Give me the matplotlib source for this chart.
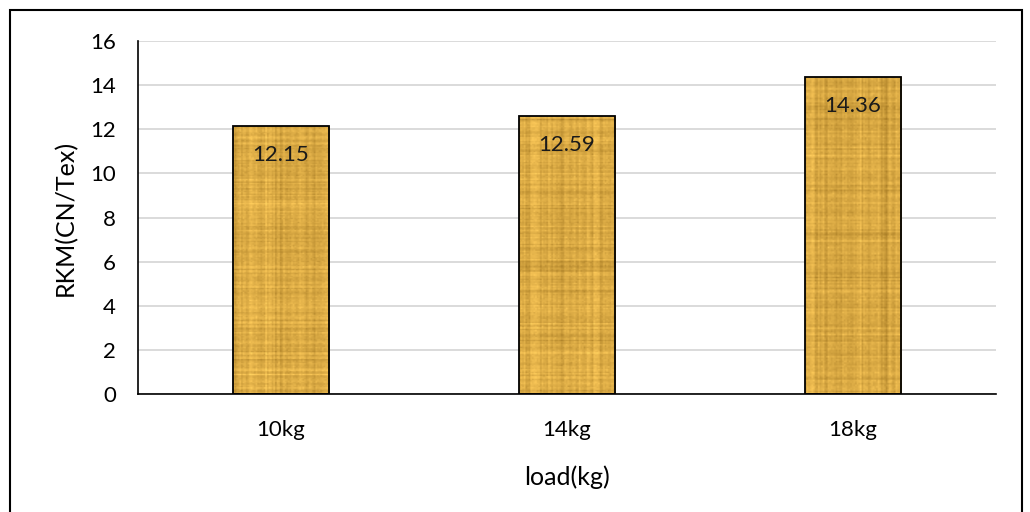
import matplotlib.pyplot as plt
import numpy as np
from matplotlib.patches import Rectangle

loads = ["10kg", "14kg", "18kg"]
rkm = [12.15, 12.59, 14.36]
y_ticks = [0, 2, 4, 6, 8, 10, 12, 14, 16]

BAR_WIDTH = 0.336
FONT = ["Lato", "DejaVu Sans"]


def papyrus_texture(h=200, w=60, seed=3):
    # golden paper-like fill: base colour with streaky fibres
    rng = np.random.default_rng(seed)
    base = np.array([0.86, 0.67, 0.27])
    rows = rng.normal(0, 0.035, (h, 1))
    cols = rng.normal(0, 0.035, (1, w))
    speck = rng.normal(0, 0.02, (h, w))
    shade = rows + cols + speck
    img = np.clip(base[None, None, :] + shade[..., None] * np.array([1.0, 0.9, 0.6]), 0, 1)
    return img


fig = plt.figure(figsize=(10.30, 5.12), dpi=100)
ax = fig.add_axes([138 / 1030, 1 - 394 / 512, (996 - 138) / 1030, (394 - 41) / 512])

x = np.arange(len(loads))
bars = ax.bar(x, rkm, width=BAR_WIDTH, color="none", edgecolor="black",
              linewidth=1.3, zorder=3)
for i, b in enumerate(bars):
    tex = papyrus_texture(seed=i + 5)
    im = ax.imshow(tex, extent=(b.get_x(), b.get_x() + b.get_width(), 0, b.get_height()),
                   aspect="auto", zorder=2, interpolation="bilinear")
    im.set_clip_path(b)
    ax.text(b.get_x() + b.get_width() / 2, b.get_height() - 1.3, f"{rkm[i]:.2f}",
            ha="center", va="center", fontsize=16, family=FONT, color="#1a1a1a", zorder=4)

ax.set_xlim(-0.5, len(loads) - 0.5)
ax.set_ylim(0, 16)
ax.set_yticks(y_ticks)
ax.set_xticks(x)
ax.set_xticklabels(loads)
ax.tick_params(axis="both", length=0, labelsize=16)
ax.tick_params(axis="y", pad=16)
ax.tick_params(axis="x", pad=19)
for lbl in ax.get_xticklabels() + ax.get_yticklabels():
    lbl.set_family(FONT)
ax.yaxis.grid(True, color="#d4d4d4", linewidth=1.2, zorder=0)
ax.set_axisbelow(True)
for side in ("top", "right"):
    ax.spines[side].set_visible(False)
ax.spines["left"].set_linewidth(1.2)
ax.spines["bottom"].set_linewidth(1.2)

ax.set_ylabel("RKM(CN/Tex)", fontsize=18, family=FONT)
ax.yaxis.set_label_coords(-(138 - 77) / 858, 0.5)
ax.set_xlabel("load(kg)", fontsize=18, family=FONT)
ax.xaxis.set_label_coords(0.5, -(465 - 394) / 353)

# frame around the whole chart area
fig.patches.append(Rectangle((10 / 1030, -0.05), 1012 / 1030, 1.05 - 10 / 512,
                             transform=fig.transFigure, fill=False,
                             edgecolor="black", linewidth=1.5))

fig.savefig("out.png", dpi=100)
